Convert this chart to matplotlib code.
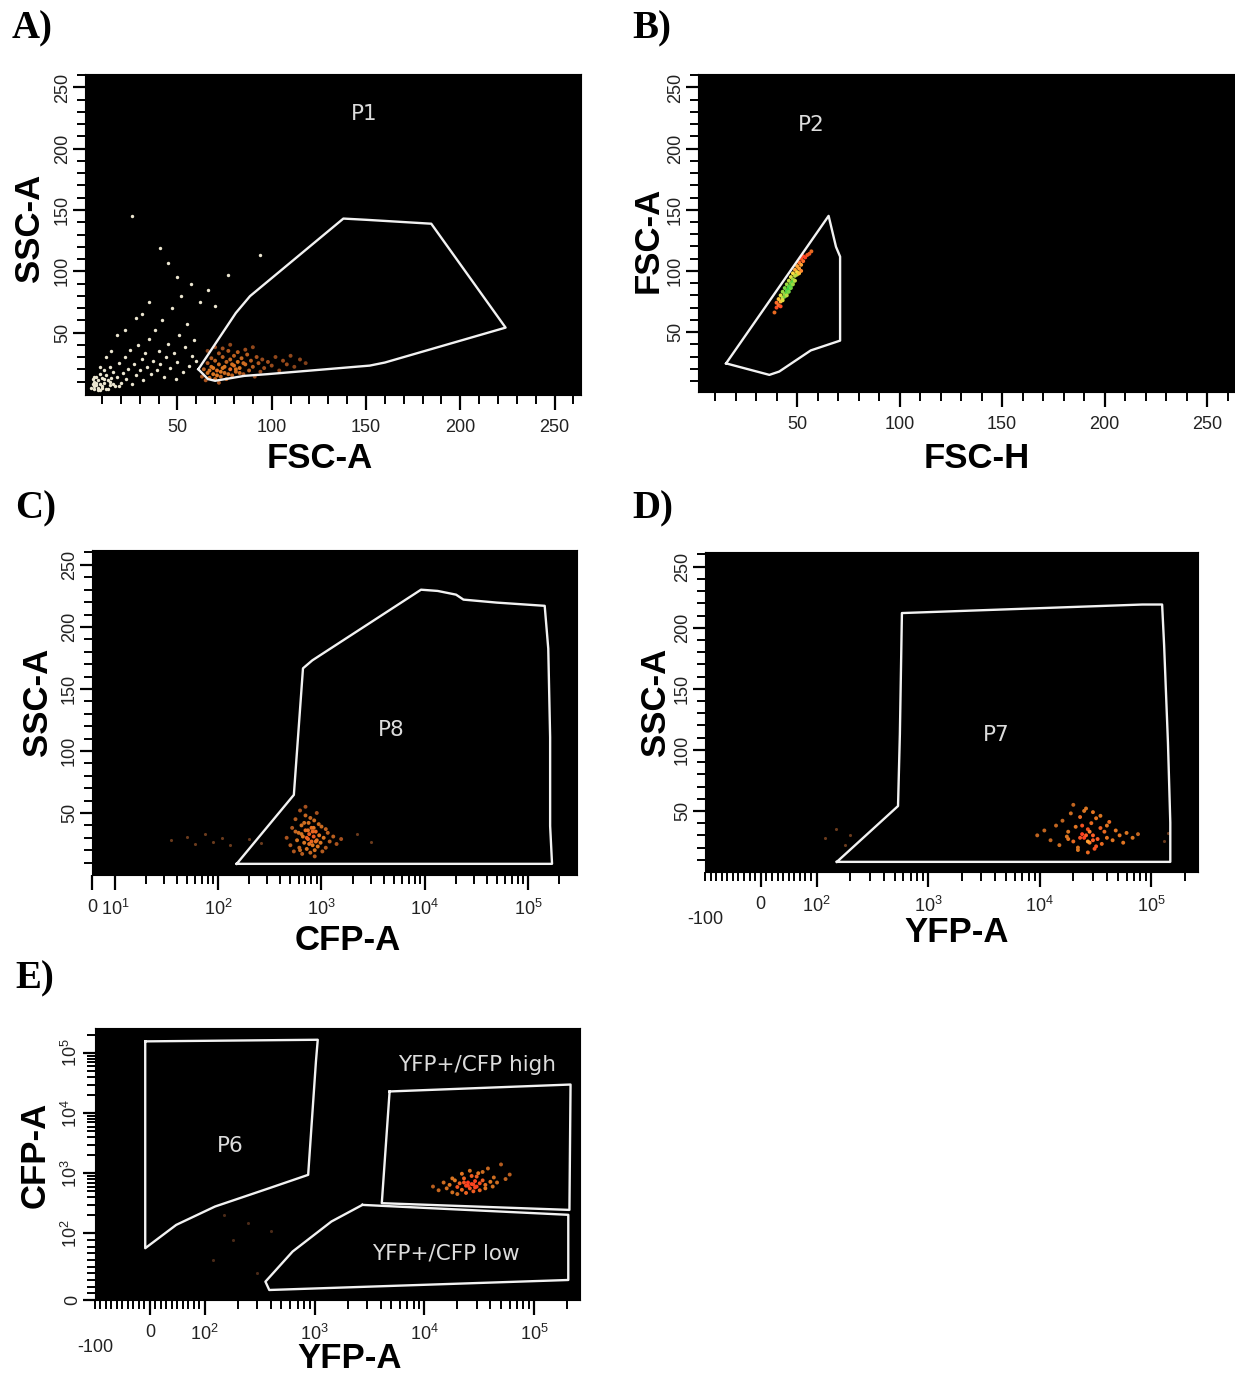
import numpy as np
import matplotlib.pyplot as plt
from matplotlib.colors import LinearSegmentedColormap
from matplotlib.ticker import FixedLocator, NullFormatter

W, H = 1235, 1375
plt.rcParams['font.family'] = ['Liberation Sans', 'DejaVu Sans']
plt.rcParams['mathtext.default'] = 'regular'

# ---------------- gates ----------------
p1_gate = np.array([(61.1, 20), (66.2, 12), (70, 10.6), (85.4, 14.6), (97.6, 16), (152, 23),
                    (160, 25.5), (224, 54), (184.6, 138.8), (150, 142), (138, 143),
                    (88.5, 79.7), (81, 66)])
p2_gate = np.array([(15.4, 24.4), (36.5, 15), (41.3, 17.7), (56.7, 35), (71, 43), (71, 111.7),
                    (69, 119.7), (65.4, 145)])
p8_gate = np.array([(151, 9), (540, 64.6), (662, 166.6), (814, 173), (9200, 230), (13335, 229),
                    (20100, 226), (23700, 222), (49700, 219.6), (145000, 217), (157000, 182.5),
                    (163700, 111), (163700, 39.5), (170800, 9)])
p7_gate = np.array([(152, 8.3), (537, 54), (558, 113), (582, 212), (83200, 219), (125000, 219),
                    (130300, 185.5), (141000, 106), (148000, 40.5), (148000, 8.3)])
p6_gate = np.array([(-8.5, 157000), (1070, 167000), (1030, 72800), (875, 940), (387, 564),
                    (124, 279), (48, 138), (-8.5, 77.6)])
cfp_high_gate = np.array([(4830, 23000), (215000, 30000), (210000, 245), (4100, 317)])
cfp_low_gate = np.array([(2730, 297), (205000, 203), (205000, 30), (387, 15), (357, 27.5),
                         (631, 72.6), (1425, 157)])

# ---------------- events ----------------
a_debris = np.array([
    (4, 5), (5, 8), (5, 12), (6, 4), (6, 10), (7, 7), (7, 14), (8, 5), (8, 11), (9, 8), (9, 16),
    (10, 6), (10, 13), (11, 9), (11, 19), (12, 4), (12, 15), (13, 11), (14, 7), (14, 22), (15, 13),
    (16, 18), (17, 6), (18, 14), (19, 25), (20, 9), (21, 17), (22, 30), (23, 12), (24, 20), (25, 36),
    (26, 8), (27, 24), (28, 15), (29, 40), (30, 19), (31, 28), (32, 11), (33, 33), (34, 22), (35, 45),
    (36, 16), (37, 27), (38, 52), (39, 19), (40, 35), (41, 24), (42, 60), (43, 14), (44, 30), (45, 41),
    (46, 21), (47, 70), (48, 33), (49, 12), (50, 26), (51, 48), (52, 80), (53, 18), (54, 38), (55, 57),
    (56, 23), (57, 90), (58, 31), (59, 44), (60, 27), (26, 145), (41, 119), (45, 107), (77, 97),
    (94, 113), (66, 85), (70, 72), (35, 75), (28, 62), (18, 48), (12, 30), (9, 22), (6, 14), (15, 35),
    (22, 52), (31, 65), (50, 95), (62, 75), (8, 3), (10, 5), (13, 4), (16, 8), (19, 6), (7, 9), (9, 3),
    (11, 12), (14, 10), (6, 6)])
a_events = np.array([
    (63, 14), (64, 20), (65, 11), (66, 17), (66, 25), (67, 13), (68, 22), (68, 29), (69, 16), (70, 12),
    (70, 27), (71, 19), (72, 24), (72, 33), (73, 14), (74, 21), (74, 30), (75, 17), (76, 26), (76, 12),
    (77, 35), (78, 20), (78, 28), (79, 15), (80, 23), (80, 31), (81, 18), (82, 26), (83, 21), (84, 29),
    (85, 16), (86, 24), (87, 32), (88, 19), (89, 27), (90, 22), (91, 14), (92, 30), (93, 25), (94, 18),
    (95, 28), (96, 21), (98, 26), (100, 23), (102, 30), (104, 19), (106, 27), (108, 24), (110, 31),
    (112, 22), (115, 28), (118, 25), (66, 35), (70, 38), (74, 37), (78, 40), (82, 34), (86, 36),
    (90, 38), (72, 9), (67, 19), (69, 21), (71, 15), (73, 18), (75, 22), (77, 16), (79, 24), (81, 20),
    (83, 17), (85, 25)])
b_events = np.array([
    (39, 66), (40, 70), (40, 74), (41, 72), (41, 77), (42, 75), (42, 80), (43, 78), (43, 83), (44, 81),
    (44, 86), (45, 84), (45, 89), (46, 87), (46, 92), (47, 90), (47, 95), (48, 93), (48, 98), (49, 96),
    (49, 101), (50, 99), (50, 104), (51, 102), (51, 107), (52, 105), (52, 110), (53, 108), (53, 112),
    (54, 111), (55, 113), (56, 114), (57, 116), (44, 79), (46, 85), (48, 91), (50, 97), (42, 71),
    (45, 82), (52, 100), (43, 76), (45, 80), (47, 86), (49, 92), (51, 98), (47, 88), (48, 89), (46, 83)])
c_events = np.array([
    (460, 30), (500, 24), (520, 38), (540, 19), (560, 45), (580, 28), (600, 34), (610, 22), (620, 52),
    (640, 40), (650, 17), (660, 31), (680, 26), (700, 36), (700, 48), (720, 21), (740, 29), (750, 42),
    (760, 33), (780, 18), (800, 27), (800, 38), (820, 24), (840, 31), (850, 44), (860, 20), (880, 35),
    (900, 28), (900, 50), (920, 23), (950, 32), (980, 26), (1000, 39), (1050, 30), (1100, 22),
    (1150, 34), (1200, 27), (1300, 31), (1400, 25), (1550, 29), (620, 20), (700, 55), (780, 46),
    (860, 15), (940, 41), (1020, 19), (1100, 37), (560, 35), (680, 42), (820, 35), (720, 30), (760, 25),
    (840, 38), (880, 27), (640, 33), (740, 36)])
c_sparse = np.array([(35, 28), (50, 31), (60, 25), (75, 33), (90, 27), (110, 30), (130, 24),
                     (200, 29), (260, 26), (3000, 27), (2200, 33)])
d_events = np.array([
    (9500, 30), (11000, 34), (12500, 26), (14000, 38), (15000, 22), (16000, 42), (17500, 29),
    (18000, 33), (19000, 48), (20000, 25), (21000, 37), (22000, 20), (23000, 45), (24000, 31),
    (25000, 28), (26000, 52), (27000, 35), (28000, 24), (29000, 40), (30000, 30), (31000, 19),
    (32000, 44), (33000, 27), (35000, 36), (36000, 23), (38000, 33), (40000, 28), (42000, 41),
    (45000, 26), (48000, 34), (52000, 30), (56000, 24), (60000, 32), (68000, 28), (76000, 31),
    (20000, 55), (25000, 50), (30000, 49), (35000, 46), (22000, 18), (27000, 16), (32000, 21),
    (18000, 27), (40000, 38), (24000, 38), (26000, 30), (28000, 33), (30000, 26), (23000, 28),
    (27000, 25)])
d_sparse = np.array([(120, 28), (150, 35), (180, 22), (200, 30), (130000, 25), (140000, 32)])
e_events = np.array([
    (12000, 600), (13500, 520), (15000, 700), (16000, 560), (17000, 640), (18000, 480), (19000, 760),
    (20000, 590), (21000, 680), (22000, 530), (23000, 820), (24000, 620), (25000, 700), (26000, 560),
    (27000, 900), (28000, 650), (29000, 740), (30000, 600), (31000, 1000), (32000, 680), (34000, 760),
    (36000, 640), (38000, 1200), (40000, 720), (43000, 850), (46000, 700), (50000, 1400), (55000, 800),
    (60000, 950), (20000, 450), (24000, 470), (28000, 500), (32000, 520), (36000, 560), (22000, 980),
    (26000, 1100), (30000, 880), (34000, 1050), (18000, 820), (42000, 600), (25000, 620), (27000, 660),
    (29000, 580), (23000, 700)])
e_sparse = np.array([(120, 60), (180, 90), (250, 150), (300, 40), (400, 110), (150, 200)])

lin_major = [50, 100, 150, 200, 250]
lin_minor = [v for v in range(10, 261, 10) if v % 50]
log_minor = [k * 10 ** d for d in range(1, 6) for k in range(2, 10) if k * 10 ** d < 2.6e5]
biex_minor = [v for v in range(-100, 100, 10) if v != 0] + [v for v in log_minor if v > 100]
dec_labels = ['$10^%d$' % d for d in range(2, 6)]

dens_cmap = LinearSegmentedColormap.from_list(
    'dens', ['#5c2e14', '#a4501e', '#e07a22', '#ff3c20', '#ffe040', '#34d040'])

TICK_COLOR = '#222222'
fig = plt.figure(figsize=(W / 100, H / 100), dpi=100)


def add_panel(box):
    x0, y0, x1, y1 = box
    ax = fig.add_axes([x0 / W, 1 - y1 / H, (x1 - x0) / W, (y1 - y0) / H])
    ax.set_facecolor('black')
    for s in ax.spines.values():
        s.set_color('black')
    return ax


def style_ticks(ax):
    ax.tick_params(which='both', direction='out', color='black', labelcolor=TICK_COLOR,
                   labelsize=13)
    ax.tick_params(axis='x', which='major', length=11, width=1.6, pad=6)
    ax.tick_params(axis='x', which='minor', length=6.5, width=1.4)
    ax.tick_params(axis='y', which='major', length=9, width=1.6, pad=1)
    ax.tick_params(axis='y', which='minor', length=5.5, width=1.4)
    ax.tick_params(axis='y', labelrotation=90)
    for lab in ax.get_yticklabels():
        lab.set_va('center')


def lin_axis(axis):
    axis.set_major_locator(FixedLocator(lin_major))
    axis.set_minor_locator(FixedLocator(lin_minor))


def biex_x(ax):
    ax.set_xscale('symlog', linthresh=100, linscale=0.45)
    ax.set_xlim(-100, 262144)
    ax.set_xticks([0, 100, 1e3, 1e4, 1e5], ['0'] + dec_labels)
    ax.xaxis.set_minor_locator(FixedLocator(biex_minor))
    ax.xaxis.set_minor_formatter(NullFormatter())
    ax.annotate('-100', xy=(-100, 0), xycoords=('data', 'axes fraction'), xytext=(0, -34),
                textcoords='offset points', ha='center', va='center', fontsize=13,
                color=TICK_COLOR)


def draw_gate(ax, pts):
    ax.plot(np.append(pts[:, 0], pts[0, 0]), np.append(pts[:, 1], pts[0, 1]),
            color='#f2f2f2', lw=1.7, solid_joinstyle='round')


def draw_events(ax, pts, lo, hi):
    # pseudocolour by the number of neighbours within a few pixels
    px = ax.transData.transform(pts)
    d = np.hypot(px[:, None, 0] - px[None, :, 0], px[:, None, 1] - px[None, :, 1])
    n = (d < 11).sum(axis=1).astype(float)
    c = lo + (hi - lo) * (n - n.min()) / max(n.max() - n.min(), 1)
    ax.scatter(pts[:, 0], pts[:, 1], s=8, c=dens_cmap(c), linewidths=0, zorder=2)


def gate_label(ax, x, y, s):
    ax.text(x, y, s, color='#dcdcdc', fontsize=15.5, family='DejaVu Sans', ha='center',
            va='center')


# A) FSC-A vs SSC-A
ax = add_panel((85, 74, 581, 395))
ax.set_xlim(1, 264)
ax.set_ylim(-1, 261)
lin_axis(ax.xaxis)
lin_axis(ax.yaxis)
style_ticks(ax)
ax.scatter(a_debris[:, 0], a_debris[:, 1], s=6, color='#ece6d0', linewidths=0, zorder=2)
draw_events(ax, a_events, 0.1, 0.45)
draw_gate(ax, p1_gate)
gate_label(ax, 149, 228, 'P1')

# B) FSC-H vs FSC-A
ax = add_panel((698, 74, 1235, 392))
ax.set_xlim(1.7, 263.6)
ax.set_ylim(1, 261)
lin_axis(ax.xaxis)
lin_axis(ax.yaxis)
style_ticks(ax)
draw_events(ax, b_events, 0.45, 1.0)
draw_gate(ax, p2_gate)
gate_label(ax, 57, 219, 'P2')

# C) CFP-A vs SSC-A
ax = add_panel((92, 550, 577, 875))
ax.set_xscale('symlog', linthresh=10, linscale=0.2)
ax.set_xlim(0, 2.98e5)
ax.set_ylim(0, 262)
ax.set_xticks([0, 10, 100, 1e3, 1e4, 1e5], ['0', '$10^1$'] + dec_labels)
ax.xaxis.set_minor_locator(FixedLocator(log_minor))
ax.xaxis.set_minor_formatter(NullFormatter())
lin_axis(ax.yaxis)
style_ticks(ax)
ax.scatter(c_sparse[:, 0], c_sparse[:, 1], s=5, color='#6a3a1c', linewidths=0, zorder=2)
draw_events(ax, c_events, 0.2, 0.5)
draw_gate(ax, p8_gate)
gate_label(ax, 4700, 117, 'P8')

# D) YFP-A vs SSC-A
ax = add_panel((705, 552, 1198, 872))
biex_x(ax)
ax.set_ylim(0, 262)
lin_axis(ax.yaxis)
style_ticks(ax)
ax.scatter(d_sparse[:, 0], d_sparse[:, 1], s=5, color='#6a3a1c', linewidths=0, zorder=2)
draw_events(ax, d_events, 0.3, 0.72)
draw_gate(ax, p7_gate)
gate_label(ax, 4100, 112, 'P7')

# E) YFP-A vs CFP-A
ax = add_panel((95, 1028, 580, 1300))
biex_x(ax)
ax.set_yscale('symlog', linthresh=100, linscale=1.0)
ax.set_ylim(0, 262144)
ax.set_yticks([0, 100, 1e3, 1e4, 1e5], ['0'] + dec_labels)
ax.yaxis.set_minor_locator(FixedLocator([v for v in range(10, 100, 10)] +
                                        [v for v in log_minor if v > 100]))
ax.yaxis.set_minor_formatter(NullFormatter())
style_ticks(ax)
ax.scatter(e_sparse[:, 0], e_sparse[:, 1], s=5, color='#4a2a18', linewidths=0, zorder=2)
draw_events(ax, e_events, 0.25, 0.6)
draw_gate(ax, p6_gate)
draw_gate(ax, cfp_high_gate)
draw_gate(ax, cfp_low_gate)
gate_label(ax, 172, 2790, 'P6')
gate_label(ax, 30100, 64100, 'YFP+/CFP high')
gate_label(ax, 15700, 70, 'YFP+/CFP low')

# axis titles and panel letters
axis_labels = [('FSC-A', 320, 458, 0), ('FSC-H', 977, 458, 0), ('CFP-A', 348, 940, 0),
               ('YFP-A', 957, 932, 0), ('YFP-A', 350, 1358, 0),
               ('SSC-A', 30, 228, 90), ('FSC-A', 648, 240, 90), ('SSC-A', 38, 702, 90),
               ('SSC-A', 655, 702, 90), ('CFP-A', 35, 1155, 90)]
for s, x, y, rot in axis_labels:
    fig.text(x / W, 1 - y / H, s, fontsize=25, fontweight='bold', ha='center', va='center',
             rotation=rot)

for s, x, y in [('A)', 12, 10), ('B)', 632, 10), ('C)', 15, 490), ('D)', 632, 490),
                ('E)', 15, 960)]:
    fig.text(x / W, 1 - y / H, s, fontsize=28, fontweight='bold', family='Liberation Serif',
             ha='left', va='top')

fig.savefig('out.png', dpi=100, facecolor='white')
